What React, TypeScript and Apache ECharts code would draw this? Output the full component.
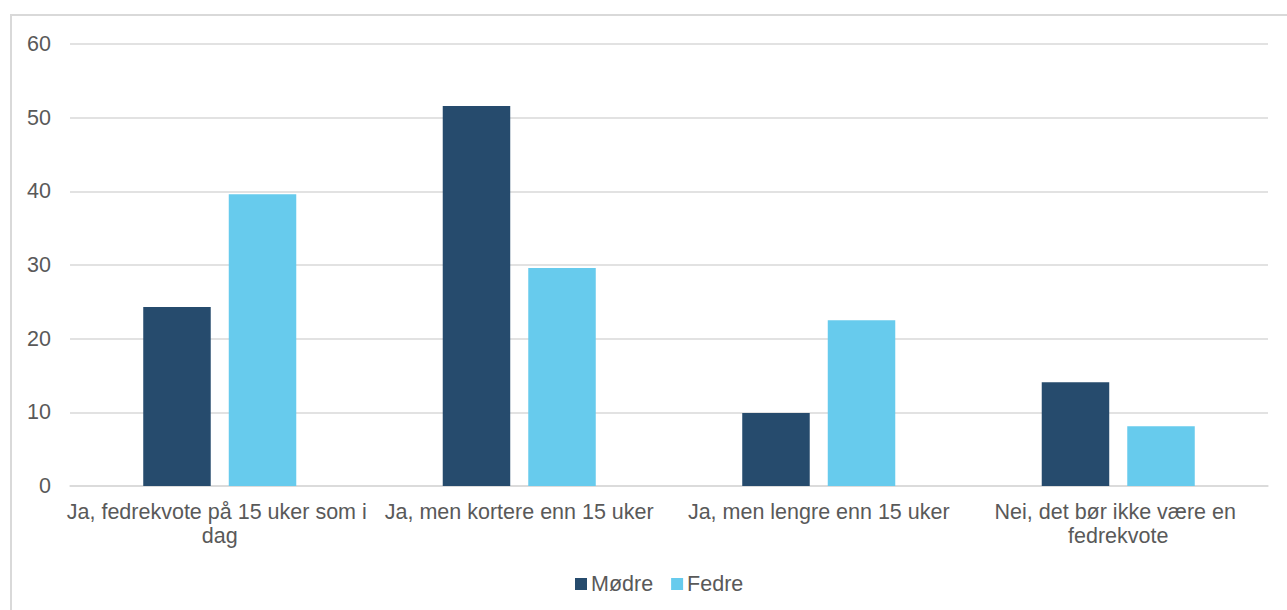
import React, { useEffect, useRef } from "react";
import * as echarts from "echarts";

const categories = [
  "Ja, fedrekvote på 15 uker som i dag",
  "Ja, men kortere enn 15 uker",
  "Ja, men lengre enn 15 uker",
  "Nei, det bør ikke være en fedrekvote",
];
const modre = [24.3, 51.6, 9.9, 14.1];
const fedre = [39.6, 29.6, 22.5, 8.1];
const yTicks = { min: 0, max: 60, interval: 10 };

const FONT = "'Liberation Sans', Arial, sans-serif";
const TEXT = "#595959";
const GRID = "#D9D9D9";
const FS = 21.5;

export default function App() {
  const ref = useRef<HTMLDivElement>(null);
  useEffect(() => {
    if (!ref.current) return;
    const chart = echarts.init(ref.current, undefined, { renderer: "svg" });
    chart.setOption({
      animation: false,
      textStyle: { fontFamily: FONT },
      graphic: [
        {
          type: "rect",
          shape: { x: 11, y: 15, width: 1290, height: 610 },
          style: { fill: "none", stroke: "#D9D9D9", lineWidth: 2 },
          silent: true,
        },
      ],
      grid: { left: 70, right: 19, top: 44, bottom: 124, containLabel: false },
      legend: {
        left: 570,
        top: 568,
        itemWidth: 12,
        itemHeight: 12,
        itemGap: 18,
        icon: "rect",
        textStyle: { fontSize: FS, color: TEXT, fontFamily: FONT, padding: [0, 0, 0, -1] },
        data: ["Mødre", "Fedre"],
      },
      xAxis: {
        type: "category",
        data: categories,
        axisLine: { show: true, lineStyle: { color: GRID, width: 1.5 } },
        axisTick: { show: false },
        axisLabel: {
          interval: 0,
          margin: 14,
          fontSize: FS,
          lineHeight: 24,
          color: TEXT,
          fontFamily: FONT,
          width: 320,
          overflow: "break",
        },
      },
      yAxis: {
        type: "value",
        min: yTicks.min,
        max: yTicks.max,
        interval: yTicks.interval,
        axisLine: { show: false },
        axisTick: { show: false },
        splitLine: { lineStyle: { color: GRID, width: 1.5 } },
        axisLabel: { fontSize: FS, color: TEXT, fontFamily: FONT, margin: 19 },
      },
      series: [
        {
          name: "Mødre",
          type: "bar",
          data: modre,
          barWidth: 67.5,
          barGap: "26.7%",
          itemStyle: { color: "#264B6D" },
        },
        {
          name: "Fedre",
          type: "bar",
          data: fedre,
          barWidth: 67.5,
          itemStyle: { color: "#67CBED" },
        },
      ],
    });
    return () => chart.dispose();
  }, []);
  return (
    <div
      ref={ref}
      style={{ position: "fixed", left: 0, top: 0, width: 1287, height: 610, background: "#fff" }}
    />
  );
}
